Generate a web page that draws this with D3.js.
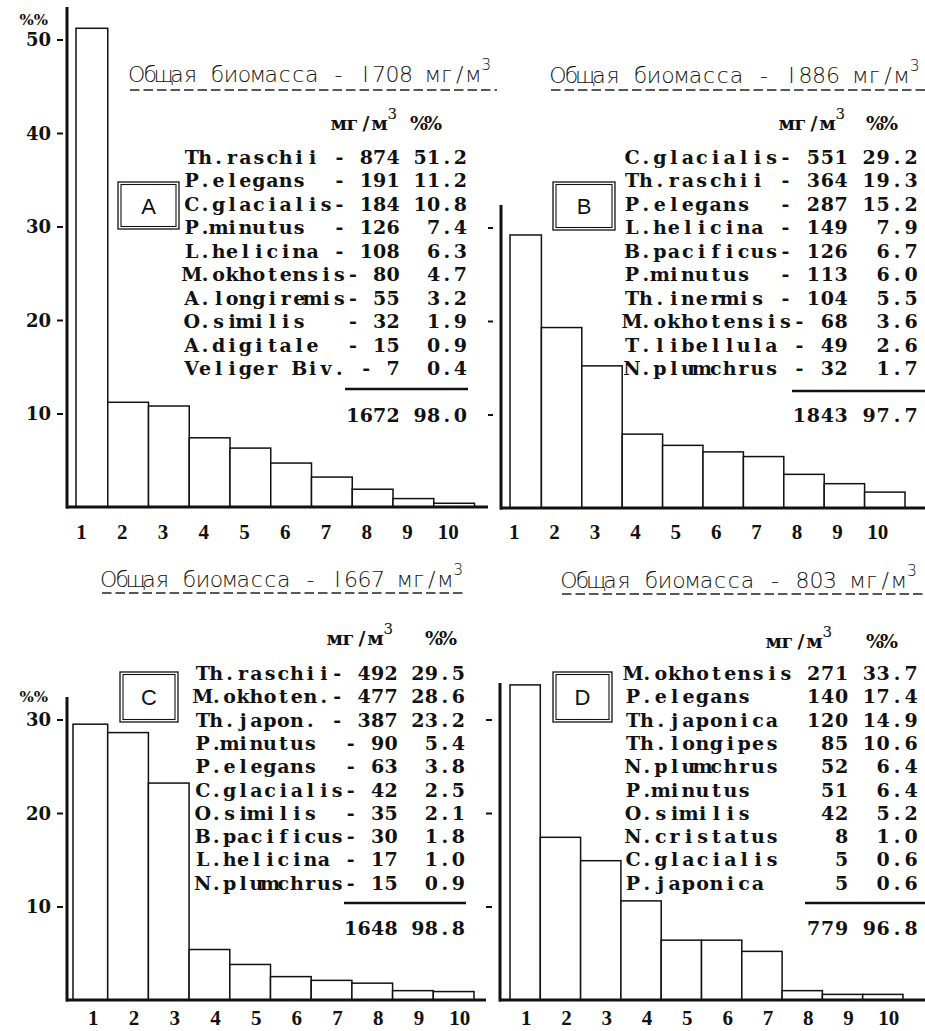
<!DOCTYPE html>
<html>
<head>
<meta charset="utf-8">
<script src="https://cdn.jsdelivr.net/npm/d3@7"></script>
<style>
  html, body { margin: 0; padding: 0; background: #fff; }
  svg { display: block; }
  text { white-space: pre; fill: #111; }
  .title { font-family: "DejaVu Sans", sans-serif; font-weight: 200; font-size: 22px; }
  .sup { font-family: "DejaVu Sans", sans-serif; font-weight: 200; font-size: 16px; }
  .row { font-family: "DejaVu Serif", serif; font-weight: bold; font-size: 19px; }
  .hdr { font-family: "DejaVu Serif", serif; font-weight: bold; font-size: 19px; }
  .hsup { font-family: "DejaVu Serif", serif; font-size: 15px; }
  .yt text { font-family: "DejaVu Serif", serif; font-weight: bold; font-size: 18px; fill: #111; }
  .xt text { font-family: "Liberation Serif", serif; font-weight: bold; font-size: 21px; fill: #111; }
  .unit { font-family: "DejaVu Serif", serif; font-weight: bold; font-size: 15px; }
  .letter { font-family: "Liberation Sans", Arial, sans-serif; font-size: 22px; }
</style>
</head>
<body>
<script>
// ---------- data ----------
const ranks = [1, 2, 3, 4, 5, 6, 7, 8, 9, 10];
const panelLetters = ["A", "B", "C", "D"];
const totalBiomass = ["I708", "I886", "I667", "803"];
const yTicksTop = [10, 20, 30, 40, 50];
const yTicksBottom = [10, 20, 30];
const unitLabel = "мг/м";
const percentLabel = "%%";

const speciesA = ["Th.raschii", "P.elegans", "C.glacialis", "P.minutus", "L.helicina",
                  "M.okhotensis", "A.longiremis", "O.similis", "A.digitale", "Veliger Biv."];
const biomassA = [874, 191, 184, 126, 108, 80, 55, 32, 15, 7];
const percentA = [51.2, 11.2, 10.8, 7.4, 6.3, 4.7, 3.2, 1.9, 0.9, 0.4];
const sumA = [1672, 98.0];

const speciesB = ["C.glacialis", "Th.raschii", "P.elegans", "L.helicina", "B.pacificus",
                  "P.minutus", "Th.inermis", "M.okhotensis", "T.libellula", "N.plumchrus"];
const biomassB = [551, 364, 287, 149, 126, 113, 104, 68, 49, 32];
const percentB = [29.2, 19.3, 15.2, 7.9, 6.7, 6.0, 5.5, 3.6, 2.6, 1.7];
const sumB = [1843, 97.7];

const speciesC = ["Th.raschii", "M.okhoten.", "Th.japon.", "P.minutus", "P.elegans",
                  "C.glacialis", "O.similis", "B.pacificus", "L.helicina", "N.plumchrus"];
const biomassC = [492, 477, 387, 90, 63, 42, 35, 30, 17, 15];
const percentC = [29.5, 28.6, 23.2, 5.4, 3.8, 2.5, 2.1, 1.8, 1.0, 0.9];
const sumC = [1648, 98.8];

const speciesD = ["M.okhotensis", "P.elegans", "Th.japonica", "Th.longipes", "N.plumchrus",
                  "P.minutus", "O.similis", "N.cristatus", "C.glacialis", "P.japonica"];
const biomassD = [271, 140, 120, 85, 52, 51, 42, 8, 5, 5];
const percentD = [33.7, 17.4, 14.9, 10.6, 6.4, 6.4, 5.2, 1.0, 0.6, 0.6];
const sumD = [779, 96.8];

// ---------- layout of the four panels ----------
const panels = [
  { letter: panelLetters[0], total: totalBiomass[0], species: speciesA, mass: biomassA, pct: percentA, sum: sumA,
    x0: 67, x1: 474.5, firstLeft: 76, base: 507, axisTop: 7, baseEnd: 488,
    ticks: yTicksTop, labels: true, unitY: 25, dash: [-10, -4],
    tab: { x0: 185, p: 13.43, y0: 164, dy: 23.45, w: 16, hyphen: true, len: 21 },
    sep: [345, 468, 389], totalY: 422,
    title: { x0: 130, p: 13.46, y: 82, ul: 90, ulEnd: 497 },
    hdr: { y: 130, ux: 332, px: 412 },
    box: [118, 182, 61, 47], labY: 539, labDX: -6 },
  { letter: panelLetters[1], total: totalBiomass[1], species: speciesB, mass: biomassB, pct: percentB, sum: sumB,
    x0: 501, x1: 905, firstLeft: 510, base: 508, axisTop: 205, baseEnd: 925,
    ticks: yTicksBottom, labels: false, dash: [-13, -8],
    tab: { x0: 625, p: 13.95, y0: 164, dy: 23.45, w: 16, hyphen: true, len: 21 },
    sep: [792, 925, 391], totalY: 422,
    title: { x0: 551, p: 13.75, y: 83, ul: 90, ulEnd: 925 },
    hdr: { y: 130, ux: 780, px: 868 },
    box: [553, 182, 62, 48], labY: 539, labDX: -7 },
  { letter: panelLetters[2], total: totalBiomass[2], species: speciesC, mass: biomassC, pct: percentC, sum: sumC,
    x0: 67, x1: 474, firstLeft: 73, base: 1000, axisTop: 697, baseEnd: 486,
    ticks: yTicksBottom, labels: true, unitY: 702, dash: [-10, -4],
    tab: { x0: 196, p: 13.45, y0: 680, dy: 23.3, w: 15, hyphen: true, len: 20 },
    sep: [344, 466, 903], totalY: 935,
    title: { x0: 102, p: 13.46, y: 587, ul: 593, ulEnd: 463 },
    hdr: { y: 645, ux: 328, px: 427 },
    box: [120, 672, 58, 50], labY: 1025, labDX: 6 },
  { letter: panelLetters[3], total: totalBiomass[3], species: speciesD, mass: biomassD, pct: percentD, sum: sumD,
    x0: 500, x1: 903, firstLeft: 510, base: 1000, axisTop: 683, baseEnd: 925,
    ticks: yTicksBottom, labels: false, dash: [-14, -8],
    tab: { x0: 626, p: 13.9, y0: 680, dy: 23.3, w: 16, hyphen: false, len: 21 },
    sep: [805, 925, 903], totalY: 935,
    title: { x0: 562, p: 13.75, y: 588, ul: 594, ulEnd: 925 },
    hdr: { y: 648, ux: 767, px: 868 },
    box: [553, 672, 59, 50], labY: 1025, labDX: 6 }
];

const W = 925, H = 1031;
const svg = d3.select("body").append("svg").attr("width", W).attr("height", H);

// one glyph per fixed-width cell, like a typewriter printout
function gridText(g, str, x0, pitch, y, cls) {
  const xs = Array.from(str).map((c, i) => (x0 + (i + 0.5) * pitch).toFixed(1)).join(" ");
  return g.append("text")
    .attr("class", cls)
    .attr("x", xs)
    .attr("y", y)
    .attr("text-anchor", "middle")
    .attr("xml:space", "preserve")
    .text(str);
}

function tableRow(name, value, pct, t) {
  const tail = (t.hyphen ? "- " : "") + String(value);
  const left = name.padEnd(t.w - tail.length, " ") + tail;
  return left + " " + pct.toFixed(1).padStart(4, " ");
}

panels.forEach(P => {
  const g = svg.append("g");

  const x = d3.scaleBand().domain(ranks).range([P.x0, P.x1]).paddingInner(0).paddingOuter(0);
  const y = d3.scaleLinear().domain([0, 10]).range([P.base, P.base - 93.5]);

  // bars
  g.append("g").selectAll("rect")
    .data(P.pct)
    .join("rect")
    .attr("x", (d, i) => i === 0 ? P.firstLeft : x(ranks[i]))
    .attr("width", (d, i) => i === 0 ? x(ranks[i]) + x.bandwidth() - P.firstLeft : x.bandwidth())
    .attr("y", d => y(d))
    .attr("height", d => P.base - y(d))
    .attr("fill", "#fff")
    .attr("stroke", "#111")
    .attr("stroke-width", 1.5);

  // axis lines
  g.append("line").attr("x1", P.x0).attr("x2", P.x0).attr("y1", P.axisTop).attr("y2", P.base + 1.5)
    .attr("stroke", "#111").attr("stroke-width", 3);
  g.append("line").attr("x1", P.x0 - 1).attr("x2", P.baseEnd).attr("y1", P.base).attr("y2", P.base)
    .attr("stroke", "#111").attr("stroke-width", 3);

  // y ticks
  const ya = g.append("g").attr("class", "yt").attr("transform", `translate(${P.x0},0)`)
    .call(d3.axisLeft(y).tickValues(P.ticks).tickSize(0).tickFormat(d => P.labels ? d : ""));
  ya.select(".domain").remove();
  ya.selectAll(".tick line").attr("x1", P.dash[0]).attr("x2", P.dash[1])
    .attr("stroke", "#111").attr("stroke-width", 2);
  ya.selectAll(".tick text").attr("x", -16).attr("dy", "0.36em");
  if (P.labels) {
    g.append("text").attr("class", "unit").attr("x", 48).attr("y", P.unitY)
      .attr("text-anchor", "end").text(percentLabel);
  }

  // x labels
  const xa = g.append("g").attr("class", "xt").attr("transform", `translate(${P.labDX},${P.labY})`)
    .call(d3.axisBottom(x).tickSize(0).tickPadding(0));
  xa.select(".domain").remove();
  xa.selectAll(".tick text").attr("dy", 0).attr("y", 0);

  // title with dashed underline
  const T = P.title;
  const ttl = "Общая биомасса - " + P.total + " " + unitLabel;
  gridText(g, ttl, T.x0, T.p, T.y, "title");
  g.append("text").attr("class", "sup")
    .attr("x", T.x0 + ttl.length * T.p + 1).attr("y", T.y - 12).text("3");
  g.append("line").attr("x1", T.x0).attr("x2", T.ulEnd).attr("y1", T.ul).attr("y2", T.ul)
    .attr("stroke", "#222").attr("stroke-width", 1.3).attr("stroke-dasharray", "9.5 4");

  // column header
  gridText(g, unitLabel, P.hdr.ux, 13.6, P.hdr.y, "hdr");
  g.append("text").attr("class", "hsup")
    .attr("x", P.hdr.ux + 4 * 13.6 + 1).attr("y", P.hdr.y - 11).text("3");
  gridText(g, percentLabel, P.hdr.px, 14, P.hdr.y, "hdr");

  // species table
  const t = P.tab;
  P.species.forEach((name, i) => {
    gridText(g, tableRow(name, P.mass[i], P.pct[i], t), t.x0, t.p, t.y0 + i * t.dy, "row");
  });
  g.append("line").attr("x1", P.sep[0]).attr("x2", P.sep[1]).attr("y1", P.sep[2]).attr("y2", P.sep[2])
    .attr("stroke", "#111").attr("stroke-width", 2.4);
  const totalStr = (P.sum[0] + " " + P.sum[1].toFixed(1)).padStart(t.len, " ");
  gridText(g, totalStr, t.x0, t.p, P.totalY, "row");

  // panel letter in a double frame
  const [bx, by, bw, bh] = P.box;
  g.append("rect").attr("x", bx).attr("y", by).attr("width", bw).attr("height", bh)
    .attr("fill", "none").attr("stroke", "#111").attr("stroke-width", 1.3);
  g.append("rect").attr("x", bx + 3).attr("y", by + 2.5).attr("width", bw - 6).attr("height", bh - 5)
    .attr("fill", "none").attr("stroke", "#111").attr("stroke-width", 1.1);
  g.append("text").attr("class", "letter").attr("x", bx + bw / 2).attr("y", by + bh / 2 + 8)
    .attr("text-anchor", "middle").text(P.letter);
});
</script>
</body>
</html>
